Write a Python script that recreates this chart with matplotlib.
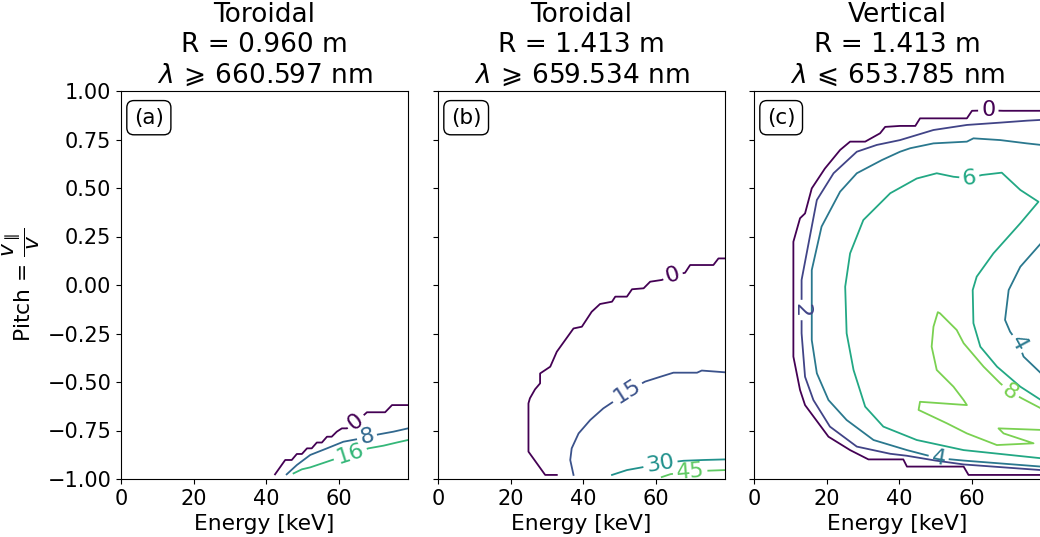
"""
Pitch-energy weight functions for three lines of sight, drawn as labelled contours.
"""

import numpy as np
import matplotlib.pyplot as plt
from matplotlib.colors import Normalize

DPI = 100
LABEL_SIZE = 16
LW = 1.3

# ---- panel (a): toroidal, R = 0.960 m -------------------------------------
A_VMAX = 24
A_E0 = [42.4, 45.2, 47.0, 48.4, 49.8, 51.2, 52.5, 53.9, 55.3, 56.7, 58.0, 59.4, 60.8,
        62.2, 63.6, 65.0, 66.3, 67.7, 72.7, 74.6, 79.0]
A_P0 = [-0.976, -0.902, -0.902, -0.871, -0.871, -0.842, -0.842, -0.812, -0.812, -0.782,
        -0.782, -0.756, -0.739, -0.739, -0.715, -0.70, -0.68, -0.656, -0.656, -0.619, -0.619]
A_E8 = [45.6, 48.4, 52.1, 56.7, 61.2, 64.9, 67.7, 70.9, 75.0, 79.0]
A_P8 = [-0.976, -0.928, -0.876, -0.842, -0.808, -0.795, -0.783, -0.770, -0.756, -0.739]
A_E16 = [47.5, 49.8, 52.1, 56.7, 60.0, 63.1, 66.0, 68.1, 72.3, 75.9, 79.0]
A_P16 = [-0.971, -0.950, -0.940, -0.911, -0.890, -0.871, -0.855, -0.842, -0.828, -0.812, -0.799]

# ---- panel (b): toroidal, R = 1.413 m -------------------------------------
B_VMAX = 60
B_E0 = [32.7, 29.5, 24.9, 24.9, 25.3, 26.7, 28.1, 28.1, 30.9, 32.7, 37.3, 39.6, 42.3,
        44.6, 47.9, 48.8, 52.0, 53.4, 56.6, 58.4, 61.6, 64.6, 68.0, 69.4, 75.8, 77.2, 79.0]
B_P0 = [-0.979, -0.979, -0.859, -0.610, -0.584, -0.538, -0.507, -0.456, -0.421, -0.344,
        -0.224, -0.215, -0.138, -0.098, -0.086, -0.060, -0.060, -0.022, -0.017, 0.017,
        0.026, 0.050, 0.063, 0.103, 0.103, 0.137, 0.137]
B_E15 = [37.3, 36.4, 36.8, 38.7, 41.9, 45.5, 48.3, 52.0, 57.0, 61.2, 64.8, 71.3, 72.6, 79.0]
B_P15 = [-0.979, -0.902, -0.842, -0.765, -0.696, -0.636, -0.601, -0.550, -0.498, -0.473,
         -0.452, -0.452, -0.441, -0.450]
B_E30 = [47.9, 52.0, 56.1, 61.2, 67.6, 73.1, 79.0]
B_P30 = [-0.979, -0.954, -0.940, -0.920, -0.906, -0.902, -0.899]
B_E45 = [61.6, 64.0, 69.4, 74.5, 79.0]
B_P45 = [-0.990, -0.975, -0.962, -0.957, -0.954]

# ---- panel (c): vertical, R = 1.413 m -------------------------------------
C_VMAX = 10
C_E0 = [79.0, 68.6, 64.5, 60.0, 58.6, 45.7, 44.4, 40.2, 36.1, 34.7, 30.6, 26.45, 23.7,
        19.5, 15.9, 14.05, 12.67, 10.84, 10.84, 12.67, 14.05, 20.5, 26.45, 31.5, 41.1,
        42.1, 57.7, 59.05, 79.0]
C_P0 = [0.898, 0.898, 0.90, 0.898, 0.859, 0.859, 0.820, 0.820, 0.815, 0.782, 0.739,
        0.739, 0.696, 0.600, 0.498, 0.369, 0.344, 0.223, -0.369, -0.541, -0.619, -0.782,
        -0.851, -0.899, -0.899, -0.936, -0.936, -0.979, -0.979]
C_E2 = [79.0, 75.1, 67.8, 58.6, 49.4, 40.2, 33.8, 28.3, 21.9, 17.3, 15.9, 13.1, 13.1,
        13.1, 14.05, 16.35, 20.9, 28.3, 37.5, 42.0, 50.0, 57.7, 79.0]
C_P2 = [0.851, 0.847, 0.837, 0.825, 0.799, 0.747, 0.722, 0.687, 0.576, 0.438, 0.301,
        0.026, -0.129, -0.249, -0.473, -0.593, -0.730, -0.833, -0.870, -0.880, -0.905,
        -0.925, -0.954]
C_E4 = [79.0, 75.1, 67.8, 60.4, 58.6, 49.4, 43.0, 40.2, 35.2, 28.3, 23.7, 18.6, 15.9,
        15.9, 17.3, 20.5, 25.5, 32.9, 42.1, 47.0, 50.8, 57.7, 79.0]
C_P4 = [0.722, 0.730, 0.747, 0.756, 0.739, 0.730, 0.705, 0.687, 0.644, 0.576, 0.481,
        0.301, 0.077, -0.284, -0.455, -0.593, -0.696, -0.799, -0.851, -0.875, -0.893,
        -0.905, -0.936]
C_E4I = [79.0, 73.3, 70.1, 69.1, 70.5, 72.8, 74.2, 79.0]
C_P4I = [0.215, 0.094, -0.026, -0.180, -0.241, -0.300, -0.369, -0.455]
C_E6 = [79.0, 57.7, 44.8, 35.6, 30.6, 27.4, 25.5, 25.1, 26.45, 30.1, 37.5, 44.8, 50.3,
        54.9, 59.3, 62.7, 68.2, 73.3, 78.3, 73.3, 65.9, 61.3, 60.2, 60.4, 62.3, 66.9,
        73.3, 79.0]
C_P6 = [-0.893, -0.851, -0.799, -0.730, -0.627, -0.438, -0.249, -0.009, 0.163, 0.335,
        0.473, 0.549, 0.576, 0.558, 0.550, 0.567, 0.579, 0.490, 0.429, 0.318, 0.163,
        0.043, -0.026, -0.197, -0.318, -0.421, -0.524, -0.593]
C_E8 = [79.0, 73.7, 70.5, 67.8, 63.2, 57.7, 55.8, 51.2, 50.6, 49.4, 48.9, 50.3, 54.9,
        57.7, 58.6, 45.7, 45.3, 53.1, 58.6, 66.85, 76.95, 68.7, 67.3, 79.0]
C_P8 = [-0.636, -0.584, -0.550, -0.507, -0.421, -0.300, -0.232, -0.146, -0.140, -0.215,
        -0.318, -0.438, -0.524, -0.593, -0.619, -0.602, -0.644, -0.713, -0.765, -0.825,
        -0.816, -0.765, -0.739, -0.747]

TITLES = [
    'Toroidal\nR = 0.960 m\n$\\lambda\\,\\geqslant\\,660.597$ nm',
    'Toroidal\nR = 1.413 m\n$\\lambda\\,\\geqslant\\,659.534$ nm',
    'Vertical\nR = 1.413 m\n$\\lambda\\,\\leqslant\\,653.785$ nm',
]
PANEL_TAGS = ['(a)', '(b)', '(c)']
X_TICKS = [0, 20, 40, 60]
Y_TICKS = [-1.0, -0.75, -0.5, -0.25, 0.0, 0.25, 0.5, 0.75, 1.0]


def contour_line(ax, E, P, color, text, near):
    """Draw one contour line, with an inline label cut into it like clabel."""
    xy = ax.transData.transform(np.column_stack([E, P]))
    target = ax.transData.transform([near])[0]
    seg = np.diff(xy, axis=0)
    seglen = np.hypot(seg[:, 0], seg[:, 1])
    cum = np.concatenate([[0.0], np.cumsum(seglen)])

    # arc length of the point on the line closest to the label spot
    best_d, s0 = np.inf, 0.0
    for i in range(len(seg)):
        t = np.clip(np.dot(target - xy[i], seg[i]) / max(seglen[i] ** 2, 1e-9), 0, 1)
        d = np.hypot(*(xy[i] + t * seg[i] - target))
        if d < best_d:
            best_d, s0 = d, cum[i] + t * seglen[i]

    half = 0.5 * len(text) * LABEL_SIZE * 0.64 * DPI / 72 + 4

    def at(s):
        return np.array([np.interp(s, cum, xy[:, 0]), np.interp(s, cum, xy[:, 1])])

    a, b = max(s0 - half, 0.0), min(s0 + half, cum[-1])
    p1, p2 = at(a), at(b)
    inv = ax.transData.inverted()
    for part in (np.vstack([xy[cum < a], p1]), np.vstack([p2, xy[cum > b]])):
        if len(part) > 1:
            d = inv.transform(part)
            ax.plot(d[:, 0], d[:, 1], color=color, lw=LW)

    ang = np.degrees(np.arctan2(p2[1] - p1[1], p2[0] - p1[0]))
    ang = (ang + 90) % 180 - 90
    cx, cy = inv.transform([at(s0)])[0]
    ax.text(cx, cy, text, color=color, fontsize=LABEL_SIZE, rotation=ang,
            rotation_mode='anchor', ha='center', va='center')


def main() -> None:
    fig = plt.figure(figsize=(10.4, 5.37), dpi=DPI)

    # axes placed by hand; the third panel runs just past the right edge
    lefts = [121 / 1040, 438 / 1040, 754 / 1040]
    axes = [fig.add_axes([l, 58 / 537, 287 / 1040, 388 / 537]) for l in lefts]

    for i, ax in enumerate(axes):
        ax.set_xlim(0, 79)
        ax.set_ylim(-1, 1)
        ax.set_xticks(X_TICKS)
        ax.set_yticks(Y_TICKS)
        ax.tick_params(labelsize=15)
        if i > 0:
            ax.tick_params(labelleft=False)
        ax.set_xlabel('Energy [keV]', fontsize=15.7)
        ax.set_title(TITLES[i], fontsize=19)
        ax.text(0.045, 0.957, PANEL_TAGS[i], transform=ax.transAxes, fontsize=15.5,
                va='top', ha='left',
                bbox=dict(boxstyle='round,pad=0.33', facecolor='white', edgecolor='black'))
    axes[0].set_ylabel('Pitch = $\\dfrac{v_\\parallel}{v}$', fontsize=15.7)

    cmap = plt.colormaps['viridis']

    # (a)
    ax = axes[0]
    col = lambda v: cmap(Normalize(0, A_VMAX)(v))
    contour_line(ax, A_E0, A_P0, col(0), '0', (64.5, -0.70))
    contour_line(ax, A_E8, A_P8, col(8), '8', (67.7, -0.783))
    contour_line(ax, A_E16, A_P16, col(16), '16', (63.1, -0.871))

    # (b)
    ax = axes[1]
    col = lambda v: cmap(Normalize(0, B_VMAX)(v))
    contour_line(ax, B_E0, B_P0, col(0), '0', (64.6, 0.05))
    contour_line(ax, B_E15, B_P15, col(15), '15', (52.0, -0.55))
    contour_line(ax, B_E30, B_P30, col(30), '30', (61.2, -0.92))
    contour_line(ax, B_E45, B_P45, col(45), '45', (69.4, -0.962))

    # (c)
    ax = axes[2]
    col = lambda v: cmap(Normalize(0, C_VMAX)(v))
    contour_line(ax, C_E0, C_P0, col(0), '0', (64.5, 0.90))
    contour_line(ax, C_E2, C_P2, col(2), '2', (13.1, -0.129))
    contour_line(ax, C_E4, C_P4, col(4), '4', (50.8, -0.893))
    contour_line(ax, C_E4I, C_P4I, col(4), '4', (72.8, -0.30))
    contour_line(ax, C_E6, C_P6, col(6), '6', (59.3, 0.55))
    contour_line(ax, C_E8, C_P8, col(8), '8', (70.5, -0.55))

    fig.savefig('out.png', dpi=DPI)


if __name__ == '__main__':
    main()
